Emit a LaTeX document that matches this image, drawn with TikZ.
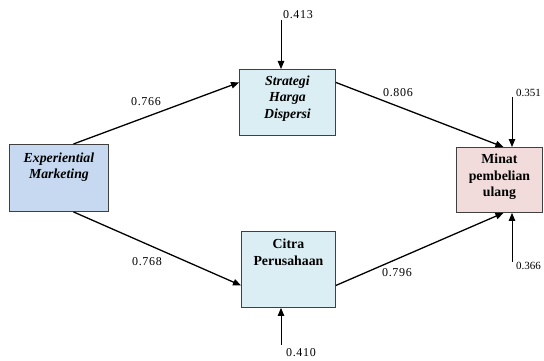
\documentclass[tikz,border=0pt]{standalone}
\usepackage{fontspec}
\setmainfont{Liberation Serif}
\usetikzlibrary{arrows.meta}
\definecolor{fillA}{RGB}{198,217,240}
\definecolor{fillB}{RGB}{219,238,244}
\definecolor{fillC}{RGB}{242,220,219}
\newcommand{\boxtext}[4]{\parbox[c][#2][t]{#1}{\centering\vspace*{#3}\strut #4}}
\tikzset{
  box/.style={draw=black!75, line width=0.9pt, inner sep=0pt,
    font=\fontsize{13.8}{16.5}\selectfont\bfseries},
  conn/.style={line width=1.3pt, -{Triangle[length=8pt,width=6.5pt]}},
  err/.style={line width=0.8pt, -{Triangle[length=8pt,width=6.5pt]}},
  num/.style={font=\fontsize{12}{14}\selectfont\addfontfeature{LetterSpace=6}, inner sep=0pt},
  numn/.style={font=\fontsize{11}{13}\selectfont, inner sep=0pt}
}
\begin{document}
\begin{tikzpicture}[x=1pt,y=-1pt]
\useasboundingbox (0,0) rectangle (544,361);
\node[box, fill=fillA, anchor=north west] (em) at (9,144)
  {\boxtext{99pt}{67pt}{6.5pt}{\itshape Experiential\\Marketing}};
\node[box, fill=fillB, anchor=north west] (shd) at (239,69)
  {\boxtext{96pt}{66pt}{4.5pt}{\itshape Strategi\\Harga\\Dispersi}};
\node[box, fill=fillB, anchor=north west] (cp) at (241,231)
  {\boxtext{94pt}{76pt}{5.5pt}{Citra\\Perusahaan}};
\node[box, fill=fillC, anchor=north west] (mpu) at (456,147)
  {\boxtext{86pt}{65pt}{4.5pt}{Minat\\pembelian\\ulang}};

\coordinate (e1) at (281,20);
\coordinate (e2) at (281,345);
\coordinate (e3) at (512,97);
\coordinate (e4) at (512,262);

\draw[conn] ([xshift=14.5pt]em.north) -- ([yshift=20pt]shd.west);
\draw[conn] ([xshift=14.5pt]em.south) -- ([yshift=-16pt]cp.west);
\draw[conn] ([yshift=20pt]shd.east) -- ([xshift=4pt]mpu.north);
\draw[conn] ([yshift=-16pt]cp.east) -- ([xshift=4pt]mpu.south);

\draw[err] (e1) -- (e1 |- shd.north);
\draw[err] (e2) -- (e2 |- cp.south);
\draw[err] (e3) -- (e3 |- mpu.north);
\draw[err] (e4) -- (e4 |- mpu.south);

\node[num] (n1) at (298,15) {0.413};
\node[num] (n2) at (301,353) {0.410};
\node[numn] (n3) at (528.5,93) {0.351};
\node[numn] (n4) at (528.5,266) {0.366};
\node[num] (l1) at (146,102) {0.766};
\node[num] (l2) at (398,93) {0.806};
\node[num] (l3) at (147,262) {0.768};
\node[num] (l4) at (397,273) {0.796};
\end{tikzpicture}
\end{document}
